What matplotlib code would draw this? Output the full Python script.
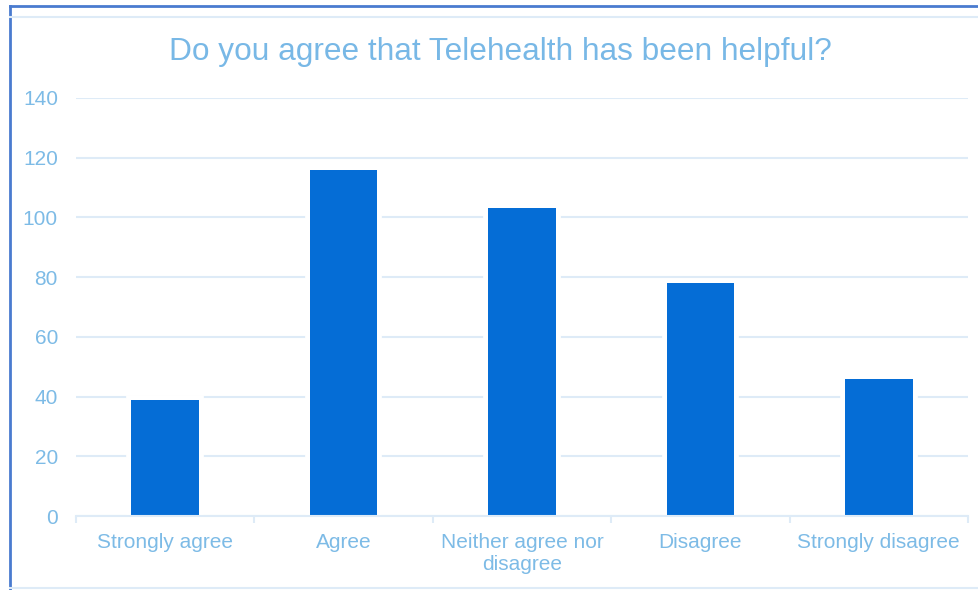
import matplotlib
matplotlib.use("Agg")
import matplotlib.pyplot as plt
import matplotlib.patheffects as pe
from matplotlib.lines import Line2D
import numpy as np

categories = ["Strongly agree", "Agree", "Neither agree nor\ndisagree", "Disagree", "Strongly disagree"]
counts = [39, 116, 103, 78, 46]
yticks = [0, 20, 40, 60, 80, 100, 120, 140]

bar_color = "#056dd6"
text_color = "#7dbbe6"
grid_color = "#deebf7"

plt.rcParams["font.family"] = ["Liberation Sans", "DejaVu Sans"]

fig = plt.figure(figsize=(9.79, 5.90), dpi=100)
ax = fig.add_axes([76 / 979, 1 - 516 / 590, (968 - 76) / 979, (516 - 98) / 590])

x = np.arange(len(categories))
bars = ax.bar(x, counts, width=0.38, color=bar_color, zorder=3)
for b in bars:
    b.set_path_effects([pe.Stroke(linewidth=7, foreground="white"), pe.Normal()])

ax.set_xlim(-0.5, len(categories) - 0.5)
ax.set_ylim(0, 140)
ax.set_yticks(yticks)
ax.yaxis.grid(True, color=grid_color, linewidth=1.5, zorder=0)
ax.set_axisbelow(True)

for s in ["top", "right", "left"]:
    ax.spines[s].set_visible(False)
ax.spines["bottom"].set_color(grid_color)
ax.spines["bottom"].set_linewidth(1.5)
ax.spines["bottom"].set_zorder(5)

ax.set_xticks(x)
ax.set_xticklabels(categories, color=text_color, fontsize=15, linespacing=1.25)
ax.tick_params(axis="x", length=0, pad=12)
ax.set_xticks(np.arange(-0.5, len(categories), 1.0), minor=True)
ax.tick_params(axis="x", which="minor", length=5, width=1.5, color=grid_color)
ax.tick_params(axis="y", length=0, pad=13, labelcolor=text_color, labelsize=15)

fig.text(500 / 979, 1 - 52 / 590, "Do you agree that Telehealth has been helpful?",
         ha="center", va="center", fontsize=22.8, color="#78b8e6")

# chart frame
fig.add_artist(Line2D([10 / 979, 10 / 979], [0, 1 - 6 / 590], transform=fig.transFigure,
                      color="#4a7bcf", linewidth=2))
fig.add_artist(Line2D([10 / 979, 1], [1 - 6 / 590, 1 - 6 / 590], transform=fig.transFigure,
                      color="#4a7bcf", linewidth=2))
fig.add_artist(Line2D([10 / 979, 1], [1 - 17 / 590, 1 - 17 / 590], transform=fig.transFigure,
                      color=grid_color, linewidth=1.5))
fig.add_artist(Line2D([10 / 979, 1], [1 - 588 / 590, 1 - 588 / 590], transform=fig.transFigure,
                      color=grid_color, linewidth=1.5))

fig.savefig("out.png", dpi=100)
